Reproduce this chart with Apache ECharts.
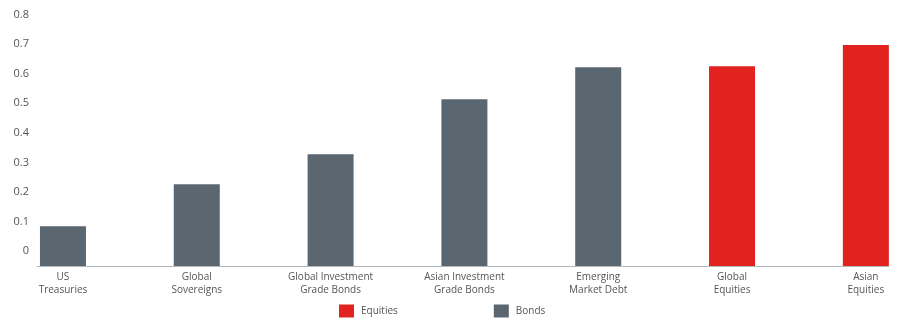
<!DOCTYPE html>
<html>
<head>
<meta charset="utf-8">
<script src="https://cdn.jsdelivr.net/npm/echarts@6/dist/echarts.min.js"></script>
<style>html,body{margin:0;padding:0;background:#fff}#c{width:904px;height:326px}</style>
</head>
<body>
<div id="c"></div>
<script>
const categories = ["US\nTreasuries", "Global\nSovereigns", "Global Investment\nGrade Bonds", "Asian Investment\nGrade Bonds", "Emerging\nMarket Debt", "Global\nEquities", "Asian\nEquities"];
const bondsValues = [0.084, 0.226, 0.328, 0.514, 0.622, null, null];
const equitiesValues = [null, null, null, null, null, 0.625, 0.697];
const yTicks = [0, 0.1, 0.2, 0.3, 0.4, 0.5, 0.6, 0.7, 0.8];

const FONT = "'Open Sans', sans-serif";
const Y_MIN = -0.05, Y_MAX = 0.8;
const BAR_W = 46;
const toData = vals => vals.map((v, i) => [i, v]).filter(d => d[1] !== null);
const idx = categories.map((c, i) => i);

function renderBar(params, api) {
  const x = api.value(0), y = api.value(1);
  const top = api.coord([x, y]);
  const bottom = api.coord([x, Y_MIN]);
  return {
    type: 'rect',
    shape: {x: top[0] - BAR_W / 2, y: top[1], width: BAR_W, height: bottom[1] - top[1]},
    style: api.style()
  };
}

const chart = echarts.init(document.getElementById('c'), null, {renderer: 'canvas'});
chart.setOption({
  animation: false,
  textStyle: {fontFamily: FONT},
  grid: {left: 37, right: 15, top: 14.6, bottom: 60, containLabel: false},
  legend: {
    data: ['Equities', 'Bonds'],
    left: 339, top: 304.5, padding: 0,
    icon: 'rect', itemWidth: 15, itemHeight: 13, itemGap: 96,
    textStyle: {fontFamily: FONT, fontSize: 10, color: '#555', padding: [0, 0, 0, 2]}
  },
  xAxis: {
    type: 'value', min: -0.194, max: 6.173,
    axisLine: {show: true, onZero: false, lineStyle: {color: '#b3b8bb', width: 1}},
    axisTick: {show: false},
    splitLine: {show: false},
    axisLabel: {
      customValues: idx,
      formatter: v => categories[Math.round(v)] || '',
      fontFamily: FONT, fontSize: 10, color: '#555', lineHeight: 13, margin: 5, align: 'center'
    }
  },
  yAxis: {
    type: 'value', min: Y_MIN, max: Y_MAX,
    axisLine: {show: false}, axisTick: {show: false}, splitLine: {show: false},
    axisLabel: {
      customValues: yTicks,
      formatter: v => (Math.abs(v) < 1e-9 ? '0' : v.toFixed(1)),
      fontFamily: FONT, fontSize: 11, color: '#555', margin: 8
    }
  },
  series: [
    {name: 'Equities', type: 'custom', renderItem: renderBar, data: toData(equitiesValues),
     encode: {x: 0, y: 1}, itemStyle: {color: '#e2221e'}, clip: false},
    {name: 'Bonds', type: 'custom', renderItem: renderBar, data: toData(bondsValues),
     encode: {x: 0, y: 1}, itemStyle: {color: '#5a6670'}, clip: false}
  ]
});
</script>
</body>
</html>
